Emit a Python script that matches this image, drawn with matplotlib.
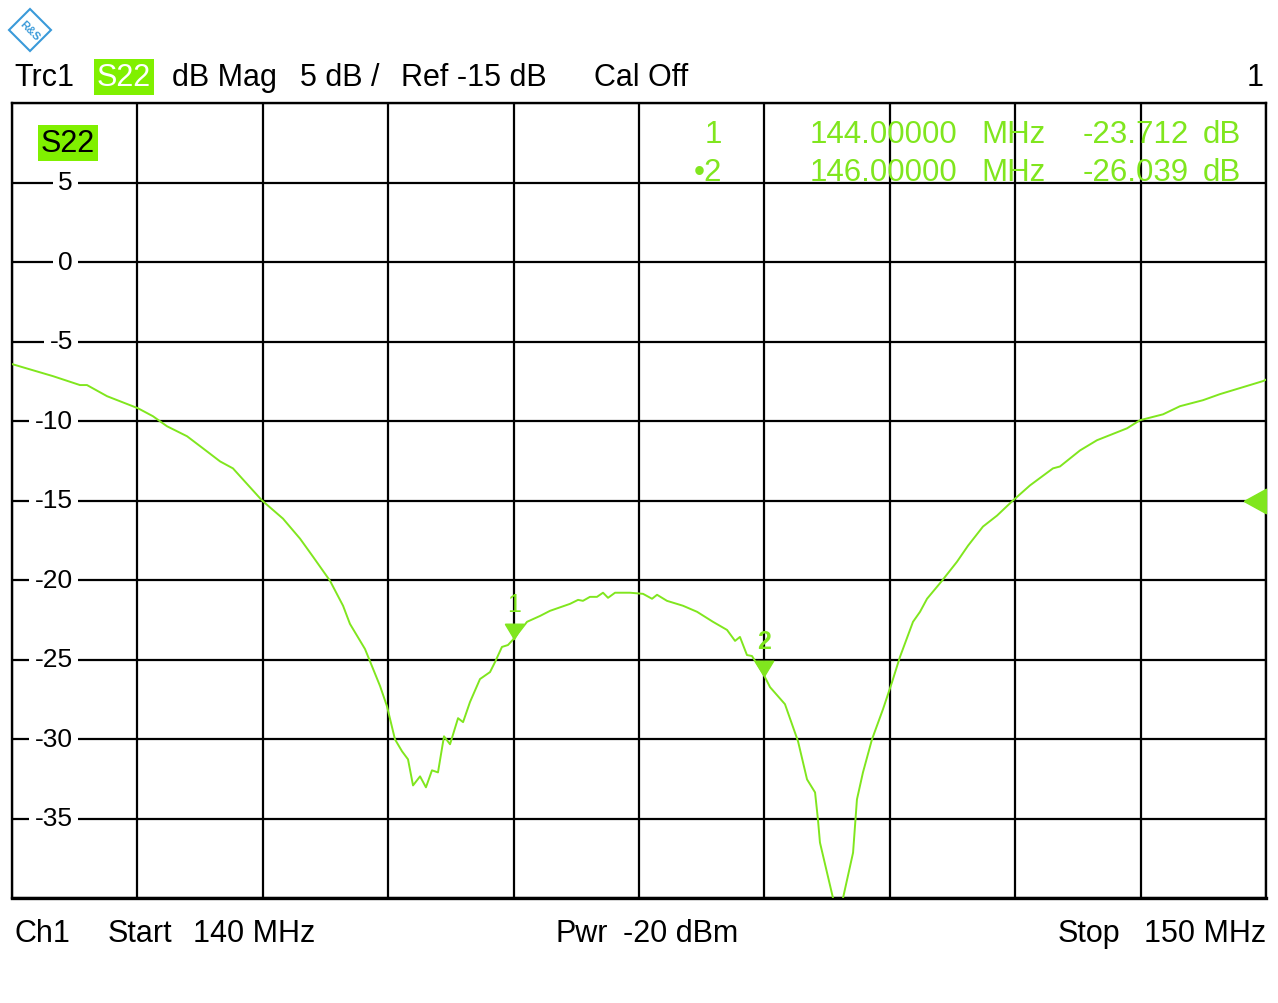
import numpy as np
import matplotlib.pyplot as plt
from matplotlib.patches import Polygon
from matplotlib.path import Path

# ---------------- data ----------------
freq_mhz = [140.000, 140.327, 140.542, 140.598, 140.758, 141.005, 141.124, 141.236,
            141.396, 141.523, 141.659, 141.762, 141.994, 142.161, 142.297, 142.400,
            142.536, 142.640, 142.695, 142.815, 142.935, 142.990, 143.054, 143.110,
            143.158, 143.198, 143.254, 143.301, 143.349, 143.397, 143.445, 143.493,
            143.557, 143.597, 143.652, 143.732, 143.812, 143.852, 143.907, 143.955,
            144.000, 144.107, 144.211, 144.290, 144.450, 144.514, 144.553, 144.609,
            144.665, 144.713, 144.753, 144.809, 144.928, 145.032, 145.104, 145.144,
            145.223, 145.351, 145.463, 145.590, 145.702, 145.766, 145.805, 145.861,
            145.901, 146.000, 146.045, 146.164, 146.268, 146.340, 146.404, 146.427,
            146.443, 146.547, 146.587, 146.627, 146.707, 146.738, 146.786, 146.858,
            146.946, 147.018, 147.081, 147.185, 147.241, 147.297, 147.416, 147.536,
            147.624, 147.743, 147.855, 147.982, 148.118, 148.301, 148.357, 148.517,
            148.652, 148.892, 148.995, 149.179, 149.314, 149.498, 149.633, 149.976,
            150.000]
s22_db = [-6.42, -7.18, -7.74, -7.74, -8.44, -9.20, -9.70, -10.33,
          -10.96, -11.72, -12.54, -12.98, -15.00, -16.14, -17.40, -18.53,
          -20.05, -21.62, -22.76, -24.34, -26.67, -27.93, -30.02, -30.77,
          -31.28, -32.92, -32.35, -33.04, -31.97, -32.10, -29.83, -30.33,
          -28.69, -28.94, -27.68, -26.23, -25.79, -25.16, -24.21, -24.09,
          -23.71, -22.63, -22.26, -21.94, -21.50, -21.25, -21.31, -21.06,
          -21.06, -20.80, -21.12, -20.80, -20.80, -20.87, -21.18, -20.93,
          -21.31, -21.62, -22.00, -22.63, -23.14, -23.83, -23.58, -24.72,
          -24.78, -26.04, -26.74, -27.81, -30.14, -32.54, -33.36, -35.06,
          -36.51, -40.00, -42.00, -40.00, -37.15, -33.80, -32.10, -30.02,
          -28.12, -26.42, -24.84, -22.63, -22.00, -21.18, -20.05, -18.85,
          -17.84, -16.64, -15.95, -15.00, -14.05, -12.98, -12.86, -11.85,
          -11.21, -10.46, -9.95, -9.58, -9.07, -8.69, -8.31, -7.49,
          -7.40]

marker_ids = ["1", "2"]
marker_freq = [144.0, 146.0]
marker_val = [-23.712, -26.039]
ref_level = -15
y_tick_labels = [5, 0, -5, -10, -15, -20, -25, -30, -35]

# ---------------- figure ----------------
W, H = 1278, 1004
GREEN = '#80e61e'
BOX = '#80f000'
plt.rcParams['font.family'] = ['Liberation Sans', 'DejaVu Sans']

fig = plt.figure(figsize=(W / 100, H / 100), dpi=100)
ax = fig.add_axes([12 / W, 1 - 899 / H, 1254 / W, 795 / H])

ax.set_xlim(140, 150)
ax.set_ylim(-40, 10)
ax.set_xticks(np.arange(140, 151, 1))
ax.set_yticks(np.arange(-40, 11, 5))
ax.grid(color='black', lw=1.6)
ax.set_axisbelow(True)
ax.tick_params(length=0, labelbottom=False, labelleft=False)
for s in ax.spines.values():
    s.set_linewidth(1.7)
ax.spines['bottom'].set_linewidth(2.4)

# trace
ax.plot(freq_mhz, s22_db, color=GREEN, lw=1.4, zorder=3)

# y labels inside the grid
for v in y_tick_labels:
    ax.text(0.0486, v, str(v), transform=ax.get_yaxis_transform(),
            ha='right', va='center', fontsize=19, zorder=4,
            bbox=dict(facecolor='white', edgecolor='none', pad=4))

# markers (triangle tip on the trace)
tri_down = Path([(-0.6, 1.0), (0.6, 1.0), (0.0, 0.0), (-0.6, 1.0)])
for mid, f, v in zip(marker_ids, marker_freq, marker_val):
    ax.plot(f, v, marker=tri_down, ms=22, color=GREEN, mec=GREEN, zorder=5)
    ax.annotate(mid, (f, v), xytext=(0, 25), textcoords='offset points',
                ha='center', va='center', fontsize=18, color=GREEN,
                fontweight='bold' if mid == "2" else 'normal', zorder=5)

# reference level triangle at right border
tri_left = Path([(-1.0, 0.0), (0.0, 0.55), (0.0, -0.55), (-1.0, 0.0)])
ax.plot(150, ref_level, marker=tri_left, ms=32, color=GREEN, mec=GREEN,
        clip_on=False, zorder=5)


def ftext(x, y, s, **kw):
    kw.setdefault('fontsize', 22)
    kw.setdefault('va', 'baseline')
    return fig.text(x / W, 1 - y / H, s, **kw)


# header
ftext(14, 86, "Trc1")
ftext(97, 86, "S22", color='white',
      bbox=dict(facecolor=BOX, edgecolor='none', boxstyle='square,pad=0.1'))
ftext(172, 86, "dB Mag")
ftext(300, 86, "5 dB /")
ftext(401, 86, "Ref -15 dB")
ftext(594, 86, "Cal Off")
ftext(1264, 86, "1", ha='right')

# S22 label inside plot
ftext(41, 152, "S22", color='black',
      bbox=dict(facecolor=BOX, edgecolor='none', boxstyle='square,pad=0.1'))

# marker table
rows_y = [143, 181]
for i, (mid, f, v) in enumerate(zip(marker_ids, marker_freq, marker_val)):
    y = rows_y[i]
    lab = mid if i == 0 else "\u2022" + mid
    ftext(722, y, lab, ha='right', color=GREEN, fontsize=22.5)
    ftext(957, y, f"{f:.5f}", ha='right', color=GREEN, fontsize=22.5)
    ftext(981, y, "MHz", color=GREEN, fontsize=22.5)
    ftext(1189, y, f"{v:.3f}", ha='right', color=GREEN, fontsize=22.5)
    ftext(1203, y, "dB", color=GREEN, fontsize=22.5)

# footer
ftext(14, 942, "Ch1")
ftext(108, 942, "Start")
ftext(193, 942, "140 MHz")
ftext(555, 942, "Pwr")
ftext(623, 942, "-20 dBm")
ftext(1058, 942, "Stop")
ftext(1266, 942, "150 MHz", ha='right')

# R&S logo (rough)
cx, cy, r = 30, 31, 21
logo = Polygon([((cx - r) / W, 1 - cy / H), (cx / W, 1 - (cy - r) / H),
                ((cx + r) / W, 1 - cy / H), (cx / W, 1 - (cy + r) / H)],
               closed=True, fill=False, edgecolor='#3a9ad9', lw=1.5,
               transform=fig.transFigure)
fig.patches.append(logo)
fig.text(cx / W, 1 - cy / H, "R&S", color='#3a9ad9', fontsize=8,
         ha='center', va='center', rotation=-45, fontweight='bold')

fig.savefig("out.png", dpi=100)
